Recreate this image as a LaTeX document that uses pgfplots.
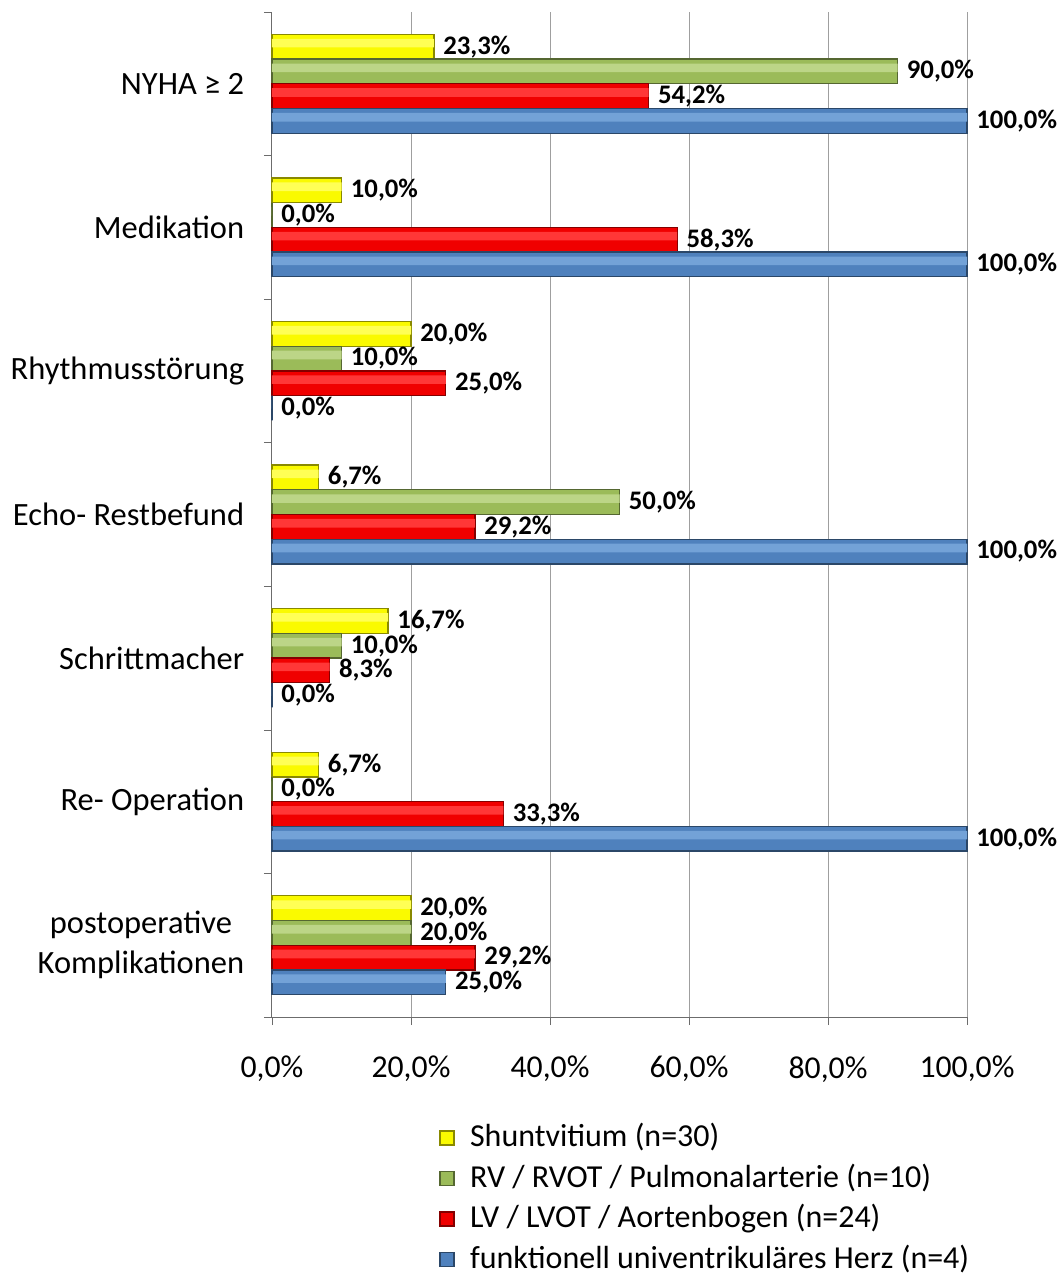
\documentclass[border=0pt]{standalone}
\usepackage{fontspec}
\setmainfont{Carlito}
\usepackage{pgfplots}
\usepackage{pgfplotstable}
\pgfplotsset{compat=1.18}
\definecolor{cy}{RGB}{250,250,0}
\definecolor{cg}{RGB}{155,187,89}
\definecolor{cr}{RGB}{240,0,0}
\definecolor{cb}{RGB}{79,129,189}
\definecolor{hy}{RGB}{255,255,85}
\definecolor{hg}{RGB}{188,213,135}
\definecolor{hr}{RGB}{255,55,55}
\definecolor{hb}{RGB}{115,162,215}
% value, category (NYHA=6 ... postoperative=0)
\pgfplotstableread{
x y
23.3 6
10.0 5
20.0 4
6.7 3
16.7 2
6.7 1
20.0 0
}\shunt
\pgfplotstableread{
x y
90.0 6
0.0 5
10.0 4
50.0 3
10.0 2
0.0 1
20.0 0
}\rv
\pgfplotstableread{
x y
54.2 6
58.3 5
25.0 4
29.2 3
8.3 2
33.3 1
29.2 0
}\lv
\pgfplotstableread{
x y
100.0 6
100.0 5
0.0 4
100.0 3
0.0 2
100.0 1
25.0 0
}\uni
\pgfplotsset{
  ser/.style={fill=#1, draw=#1!55!black, line width=0.5pt},
  hl/.style={fill=#1, draw=none, bar width=0.06, forget plot},
  lab/.style={nodes near coords={\pgfmathprintnumber[fixed,fixed zerofill,precision=1,use comma,assume math mode=true]{\pgfplotspointmeta}\%},
    every node near coord/.append style={font=\bfseries\fontsize{10.7}{12}\selectfont, inner sep=1pt, xshift=2.5pt, black}},
}
\begin{document}
\begin{tikzpicture}
\useasboundingbox (-108.8pt,-104pt) rectangle (316.4pt,406.8pt);
\begin{axis}[
  at={(0,0)}, anchor=south west,
  scale only axis, width=278pt, height=402pt,
  xbar, bar width=0.172,
  xmin=0, xmax=100, ymin=-0.5, ymax=6.5,
  clip=false,
  axis x line*=bottom, axis y line*=left,
  axis line style={gray!85!black},
  xmajorgrids, grid style={gray!75},
  xtick={0,20,40,60,80,100},
  xticklabels={{0,0\%},{20,0\%},{40,0\%},{60,0\%},{80,0\%},{100,0\%}},
  xticklabel style={font=\fontsize{12.7}{15}\selectfont, yshift=-9pt},
  tick align=outside, major tick length=3.2pt,
  tick style={gray!85!black},
  ytick={-0.5,0.5,...,6.5}, yticklabels={},
  extra y ticks={0,1,2,3,4,5,6},
  extra y tick labels={{postoperative\\Komplikationen},{Re- Operation},{Schrittmacher},{Echo- Restbefund},{Rhythmusstörung},{Medikation},{NYHA ≥ 2}},
  extra y tick style={major tick length=0pt, yticklabel style={font=\fontsize{13}{16}\selectfont, align=center, xshift=-7.6pt}},
  point meta=x,
  legend style={draw=none, fill=none, at={(0.240,-0.1025)}, anchor=north west, font=\fontsize{12.8}{15}\selectfont, row sep=2.2pt, inner sep=0pt, nodes={inner sep=1pt, text height=9.5pt, text depth=2.5pt}, /tikz/every odd column/.append style={column sep=5.2pt}},
  legend cell align=left,
  legend image code/.code={\path[#1] (0pt,-2.8pt) rectangle (5.6pt,2.8pt);},
]
\addplot[ser=cy, bar shift=0.258, lab] table[x=x,y=y] {\shunt};
\addplot[ser=cg, bar shift=0.086, lab] table[x=x,y=y] {\rv};
\addplot[ser=cr, bar shift=-0.086, lab] table[x=x,y=y] {\lv};
\addplot[ser=cb, bar shift=-0.258, lab] table[x=x,y=y] {\uni};
\addplot[hl=hy, bar shift=0.283] table[x=x,y=y] {\shunt};
\addplot[hl=hg, bar shift=0.111] table[x=x,y=y] {\rv};
\addplot[hl=hr, bar shift=-0.061] table[x=x,y=y] {\lv};
\addplot[hl=hb, bar shift=-0.233] table[x=x,y=y] {\uni};
\legend{Shuntvitium (n=30), RV / RVOT / Pulmonalarterie (n=10), LV / LVOT / Aortenbogen (n=24), funktionell univentrikuläres Herz (n=4)}
\end{axis}
\end{tikzpicture}
\end{document}
